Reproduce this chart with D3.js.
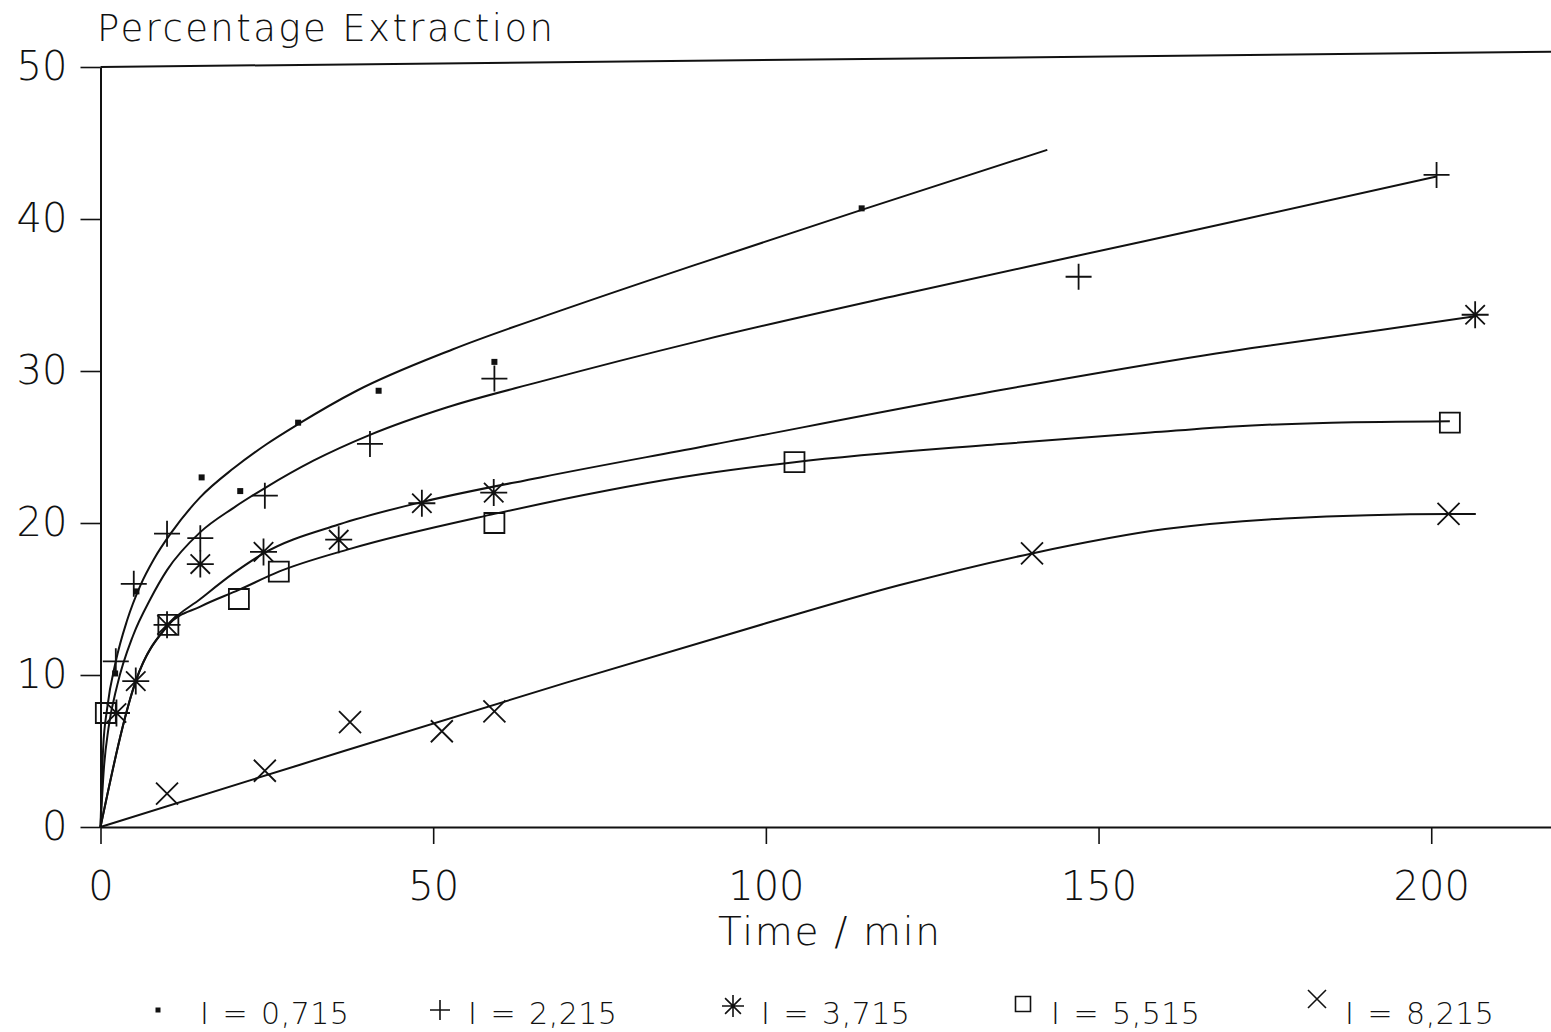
<!DOCTYPE html>
<html><head><meta charset="utf-8">
<script src="https://cdn.jsdelivr.net/npm/d3@7"></script>
<style>
html,body{margin:0;padding:0;background:#fff;}
svg{display:block;}
text{font-family:"DejaVu Sans ExtraLight","DejaVu Sans Light","Liberation Sans",Arial,sans-serif;font-weight:200;fill:#111;}
</style></head>
<body>
<svg id="chart" width="1551" height="1032"></svg>
<script>
// ---- data ----
const seriesNames = ["I = 0,715", "I = 2,215", "I = 3,715", "I = 5,515", "I = 8,215"];
const seriesSymbols = ["dot", "plus", "asterisk", "square", "cross"];
const xTicks = [0, 50, 100, 150, 200];
const yTicks = [0, 10, 20, 30, 40, 50];

// measured points [time/min, % extraction]
const pts1 = [[2.2,10.1],[5.4,15.5],[15.2,23.0],[21.0,22.1],[29.7,26.6],[41.8,28.7],[59.2,30.6],[114.4,40.7]];
const pts2 = [[2.3,10.9],[5.0,16.0],[10.0,19.3],[15.0,19.0],[24.7,21.8],[40.5,25.2],[59.2,29.5],[147.0,36.2],[200.8,42.9]];
const pts3 = [[2.4,7.5],[5.3,9.6],[10.0,13.3],[15.0,17.3],[24.5,18.1],[35.8,18.9],[48.3,21.3],[59.1,22.0],[206.6,33.7]];
const pts4 = [[0.8,7.5],[10.2,13.3],[20.8,15.0],[26.8,16.8],[59.2,20.0],[104.3,24.0],[202.8,26.6]];
const pts5 = [[10.0,2.2],[24.7,3.7],[37.5,6.9],[51.3,6.3],[59.2,7.6],[140.0,18.0],[202.6,20.6]];

// fitted curves [time/min, % extraction]
const fit1 = [[0,0],[0.4,5.2],[1,7.8],[2.3,10.9],[4,13.6],[6,15.9],[8,17.6],[10.7,19.4],[15,21.7],[20,23.6],[25,25.2],[29.7,26.5],[38.5,28.7],[52.8,31.4],[70,34.1],[90.2,37.1],[114.4,40.6],[142.3,44.55]];
const fit2 = [[0,0],[0.5,3.8],[1.2,6.5],[2.5,9.3],[4.9,12.6],[7.5,15.0],[10,16.9],[15,19.4],[20,21.0],[24.7,22.3],[32,24.1],[40.5,25.8],[52,27.6],[66.1,29.3],[90.2,32.0],[120,35.0],[147,37.6],[170,39.8],[200.8,42.8]];
const fit3 = [[0,0],[5.3,9.6],[10.2,13.3],[15,15.0],[20,16.7],[24.5,18.0],[35.8,19.9],[48.5,21.4],[66.1,23.0],[90.2,25.0],[135.3,28.75],[172.8,31.5],[192.4,32.7],[206.6,33.6]];
const fit4 = [[0,0],[5.3,9.6],[10.2,13.3],[15,14.5],[20.8,15.6],[26.8,16.8],[37.5,18.3],[59.2,20.6],[66.1,21.25],[90.2,23.2],[104.3,24.0],[135.3,25.2],[157.8,25.95],[170.3,26.35],[185,26.6],[202.8,26.7]];
const fit5 = [[0,0],[30,4.1],[70,9.5],[100,13.4],[120,15.9],[140,18.0],[160,19.6],[178,20.3],[203,20.6],[206.7,20.6]];

const pointSets = [pts1, pts2, pts3, pts4, pts5];
const fitSets = [fit1, fit2, fit3, fit4, fit5];

// ---- drawing ----
const svg = d3.select("#chart");
const ink = "#111";
const x = d3.scaleLinear().domain([0, 218]).range([100.5, 1551]);
const y = d3.scaleLinear().domain([0, 50]).range([827, 67]);

// title
svg.append("text").attr("x", 97).attr("y", 41)
  .attr("font-size", 37).attr("textLength", 456).attr("lengthAdjust", "spacing")
  .text("Percentage Extraction");

// y axis
const gy = svg.append("g").attr("transform", `translate(${x(0)},0)`)
  .call(d3.axisLeft(y).tickValues(yTicks).tickSize(20).tickSizeOuter(0).tickPadding(13));
gy.select(".domain").attr("stroke", ink).attr("stroke-width", 2);
gy.selectAll(".tick line").attr("stroke", ink).attr("stroke-width", 1.6);
gy.selectAll(".tick text").attr("font-size", 40).attr("fill", null);

// x axis
const gx = svg.append("g").attr("transform", `translate(0,${y(0)})`)
  .call(d3.axisBottom(x).tickValues(xTicks).tickSize(17).tickSizeOuter(0).tickPadding(28));
gx.select(".domain").attr("stroke", ink).attr("stroke-width", 2);
gx.selectAll(".tick line").attr("stroke", ink).attr("stroke-width", 1.6);
gx.selectAll(".tick text").attr("font-size", 40).attr("fill", null);
svg.selectAll("g").attr("font-family", null).attr("font-size", null);

// top frame line
svg.append("line").attr("x1", x(0)).attr("y1", y(50)).attr("x2", x(218)).attr("y2", y(51.0))
  .attr("stroke", ink).attr("stroke-width", 2);

// x axis title
svg.append("text").attr("x", 718).attr("y", 945)
  .attr("font-size", 39).attr("textLength", 222).attr("lengthAdjust", "spacing")
  .text("Time / min");

// fitted curves
const line = d3.line().x(d => x(d[0])).y(d => y(d[1])).curve(d3.curveMonotoneX);
svg.append("g").selectAll("path").data(fitSets).join("path")
  .attr("d", line).attr("fill", "none").attr("stroke", ink).attr("stroke-width", 2)
  .attr("stroke-linejoin", "round");

// marker shapes
function markerPath(type, s) {
  const p = d3.path();
  if (type === "dot") {
    p.rect(-s/2, -s/2, s, s);
  } else if (type === "plus") {
    p.moveTo(-s/2, 0); p.lineTo(s/2, 0); p.moveTo(0, -s/2); p.lineTo(0, s/2);
  } else if (type === "asterisk") {
    const h = s/2, d = s*0.36;
    p.moveTo(-h, 0); p.lineTo(h, 0); p.moveTo(0, -h); p.lineTo(0, h);
    p.moveTo(-d, -d); p.lineTo(d, d); p.moveTo(-d, d); p.lineTo(d, -d);
  } else if (type === "square") {
    p.rect(-s/2, -s/2, s, s);
  } else if (type === "cross") {
    const h = s/2;
    p.moveTo(-h, -h); p.lineTo(h, h); p.moveTo(-h, h); p.lineTo(h, -h);
  }
  return p.toString();
}
const plotSize = {dot: 6, plus: 26, asterisk: 27, square: 20, cross: 22};

pointSets.forEach((pts, i) => {
  const type = seriesSymbols[i];
  svg.append("g").selectAll("path").data(pts).join("path")
    .attr("transform", d => `translate(${x(d[0])},${y(d[1])})`)
    .attr("d", markerPath(type, plotSize[type]))
    .attr("fill", type === "dot" ? ink : "none")
    .attr("stroke", ink).attr("stroke-width", type === "dot" ? 0 : 1.8);
});

// legend
const legSize = {dot: 5, plus: 20, asterisk: 22, square: 15, cross: 18};
const legX = [158, 440, 733, 1023, 1317];
const legY = [1010, 1010, 1006, 1004, 999];
const legendItems = seriesNames.map((n, i) => ({name: n, type: seriesSymbols[i]}));
const lg = svg.append("g").selectAll("g").data(legendItems).join("g")
  .attr("transform", (d, i) => `translate(${legX[i]},0)`);
lg.append("path")
  .attr("transform", (d, i) => `translate(0,${legY[i]})`)
  .attr("d", d => markerPath(d.type, legSize[d.type]))
  .attr("fill", d => d.type === "dot" ? ink : "none")
  .attr("stroke", ink).attr("stroke-width", d => d.type === "dot" ? 0 : 1.6);
lg.append("text")
  .attr("x", (d, i) => i === 0 ? 42 : 28).attr("y", 1024)
  .attr("font-size", 30).attr("word-spacing", 3).attr("letter-spacing", 0.5)
  .text(d => d.name);
</script>
</body></html>
